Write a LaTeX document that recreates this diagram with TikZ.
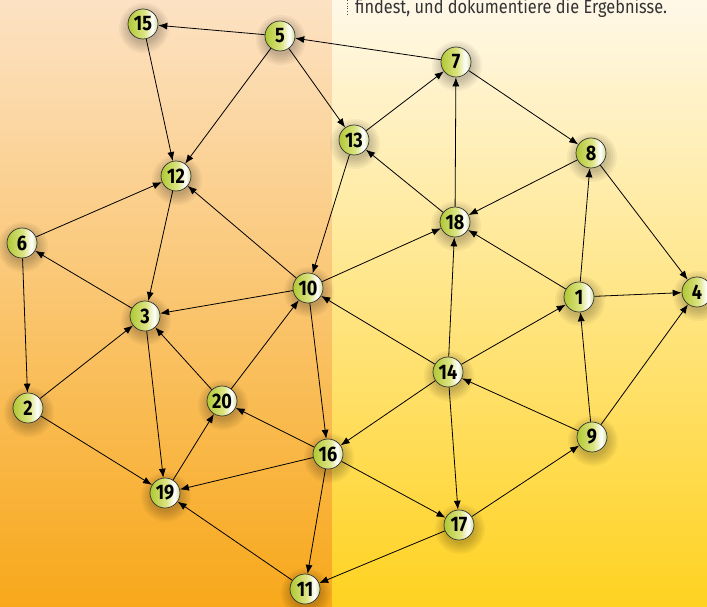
\documentclass[tikz,border=0pt]{standalone}
\usepackage{fontspec}
\setmainfont{Fira Sans}
\newfontfamily\knotenfont{Fira Sans}[FakeStretch=0.86]
\newfontfamily\zeilenfont{Fira Sans}[FakeStretch=0.86]
\usepackage{xcolor}
\usepackage{tikz}
\usetikzlibrary{shapes,calc,backgrounds,arrows.meta}

\definecolor{linksoben}{RGB}{252,226,196}
\definecolor{linksmitte}{RGB}{251,196,128}
\definecolor{linksunten}{RGB}{248,168,26}
\definecolor{rechtsoben}{RGB}{255,248,232}
\definecolor{rechtsmitte}{RGB}{255,232,162}
\definecolor{rechtsunten}{RGB}{255,210,32}
\definecolor{kugelgruen}{RGB}{176,200,52}
\definecolor{kugelgelb}{RGB}{220,228,130}
\definecolor{kugelrand}{RGB}{206,220,140}
\pgfdeclarehorizontalshading{kugel}{100bp}{color(0bp)=(kugelgruen); color(25bp)=(kugelgruen);
  color(52bp)=(kugelgelb); color(66bp)=(white); color(75bp)=(kugelrand); color(100bp)=(kugelrand)}

\tikzset{
  knoten/.style={circle, draw=black!80, line width=0.7pt, minimum size=30pt, inner sep=0pt,
    shading=kugel, font=\knotenfont\bfseries\fontsize{21}{21}\selectfont},
  schatten/.style={fill=black, fill opacity=0.04},
  pfeil/.style={-{Latex[length=9pt,width=7pt]}, line width=0.8pt}
}

\begin{document}
\begin{tikzpicture}[x=1pt,y=-1pt]
      \useasboundingbox (0,0) rectangle (707,607);
      \draw [dotted, line width=0.8pt, black!70] (347,0) -- (347,15);
      \node at (355,14) [anchor=base west, inner sep=0pt, text=black!80, font=\zeilenfont\fontsize{19}{19}\selectfont] {findest, und dokumentiere die Ergebnisse.};

      \node [knoten] (n15) at (143,24) {15};
      \node [knoten] (n5) at (280,36) {5};
      \node [knoten] (n7) at (456,62) {7};
      \node [knoten] (n13) at (354,140) {13};
      \node [knoten] (n8) at (591,153) {8};
      \node [knoten] (n12) at (176,176) {12};
      \node [knoten] (n18) at (455,222) {18};
      \node [knoten] (n6) at (22,243) {6};
      \node [knoten] (n10) at (308,288) {10};
      \node [knoten] (n1) at (579,297) {1};
      \node [knoten] (n4) at (697,292) {4};
      \node [knoten] (n3) at (145,316) {3};
      \node [knoten] (n14) at (448,372) {14};
      \node [knoten] (n2) at (28,408) {2};
      \node [knoten] (n20) at (222,401) {20};
      \node [knoten] (n9) at (592,437) {9};
      \node [knoten] (n16) at (328,454) {16};
      \node [knoten] (n19) at (165,493) {19};
      \node [knoten] (n17) at (459,525) {17};
      \node [knoten] (n11) at (305,589) {11};

      \begin{scope}[on background layer]
      \shade [top color=linksoben, middle color=linksmitte, bottom color=linksunten] (0,0) rectangle (332,607);
      \shade [top color=rechtsoben, middle color=rechtsmitte, bottom color=rechtsunten] (332,0) rectangle (707,607);
      % weiche Schatten unter den Knoten
      \foreach \k in {n1,n2,n3,n4,n5,n6,n7,n8,n9,n10,n11,n12,n13,n14,n15,n16,n17,n18,n19,n20}
        \foreach \r in {15,17,...,25}
          \fill [schatten] ($(\k)+(1,4)$) circle (\r pt);
      \draw [pfeil] (n5) -- (n15);
      \draw [pfeil] (n7) -- (n5);
      \draw [pfeil] (n15) -- (n12);
      \draw [pfeil] (n5) -- (n12);
      \draw [pfeil] (n5) -- (n13);
      \draw [pfeil] (n13) -- (n7);
      \draw [pfeil] (n7) -- (n8);
      \draw [pfeil] (n18) -- (n7);
      \draw [pfeil] (n18) -- (n13);
      \draw [pfeil] (n8) -- (n18);
      \draw [pfeil] (n8) -- (n4);
      \draw [pfeil] (n1) -- (n8);
      \draw [pfeil] (n1) -- (n18);
      \draw [pfeil] (n1) -- (n4);
      \draw [pfeil] (n9) -- (n1);
      \draw [pfeil] (n9) -- (n4);
      \draw [pfeil] (n9) -- (n14);
      \draw [pfeil] (n14) -- (n18);
      \draw [pfeil] (n14) -- (n1);
      \draw [pfeil] (n14) -- (n10);
      \draw [pfeil] (n14) -- (n16);
      \draw [pfeil] (n14) -- (n17);
      \draw [pfeil] (n17) -- (n9);
      \draw [pfeil] (n17) -- (n11);
      \draw [pfeil] (n16) -- (n17);
      \draw [pfeil] (n10) -- (n18);
      \draw [pfeil] (n13) -- (n10);
      \draw [pfeil] (n10) -- (n12);
      \draw [pfeil] (n10) -- (n3);
      \draw [pfeil] (n10) -- (n16);
      \draw [pfeil] (n20) -- (n10);
      \draw [pfeil] (n16) -- (n20);
      \draw [pfeil] (n16) -- (n19);
      \draw [pfeil] (n16) -- (n11);
      \draw [pfeil] (n11) -- (n19);
      \draw [pfeil] (n19) -- (n20);
      \draw [pfeil] (n20) -- (n3);
      \draw [pfeil] (n3) -- (n19);
      \draw [pfeil] (n2) -- (n19);
      \draw [pfeil] (n2) -- (n3);
      \draw [pfeil] (n3) -- (n6);
      \draw [pfeil] (n6) -- (n12);
      \draw [pfeil] (n6) -- (n2);
      \draw [pfeil] (n12) -- (n3);
      \end{scope}
    \end{tikzpicture}
\end{document}
